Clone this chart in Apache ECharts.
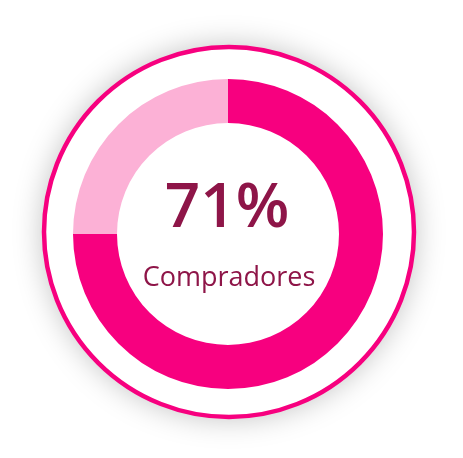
<!DOCTYPE html>
<html>
<head>
<meta charset="utf-8">
<script src="https://cdn.jsdelivr.net/npm/echarts@6/dist/echarts.min.js"></script>
<style>
  html, body { margin: 0; padding: 0; background: #fff; }
  #chart { width: 463px; height: 458px; }
</style>
</head>
<body>
<div id="chart"></div>
<script>
// ring as drawn: dark part covers three quarters, light part the rest
const categories = ['Compradores', 'Resto']
const values = [75, 25]
const colors = ['#f7007f', '#fcb1d6']
const bigLabel = '71%'
const subLabel = 'Compradores'

const chart = echarts.init(document.getElementById('chart'))

const options = {
  animation: false,
  graphic: [
    // shadow disc
    {
      type: 'circle',
      z: 0,
      shape: { cx: 229, cy: 232, r: 186 },
      style: {
        fill: '#fff',
        shadowBlur: 30,
        shadowColor: 'rgba(0,0,0,0.25)'
      }
    },
    // white face with pink rim, drawn over the shadow
    {
      type: 'circle',
      z: 1,
      shape: { cx: 229, cy: 232, r: 185 },
      style: {
        fill: '#fff',
        stroke: '#f7007f',
        lineWidth: 4.5
      }
    },
    {
      type: 'text',
      z: 10,
      x: 227,
      y: 240,
      style: {
        text: bigLabel,
        fill: '#8e1548',
        font: '600 62px "Open Sans"',
        textAlign: 'center',
        textVerticalAlign: 'bottom'
      }
    },
    {
      type: 'text',
      z: 10,
      x: 229,
      y: 292,
      style: {
        text: subLabel,
        fill: '#8e1548',
        font: '27px "Open Sans"',
        textAlign: 'center',
        textVerticalAlign: 'bottom'
      }
    }
  ],
  series: [
    {
      type: 'pie',
      center: [228, 234],
      radius: [111, 155],
      startAngle: 90,
      clockwise: true,
      silent: true,
      z: 5,
      label: { show: false },
      labelLine: { show: false },
      itemStyle: { borderWidth: 0 },
      data: categories.map((name, i) => ({
        name,
        value: values[i],
        itemStyle: { color: colors[i] }
      }))
    }
  ]
}

chart.setOption(options)
</script>
</body>
</html>
